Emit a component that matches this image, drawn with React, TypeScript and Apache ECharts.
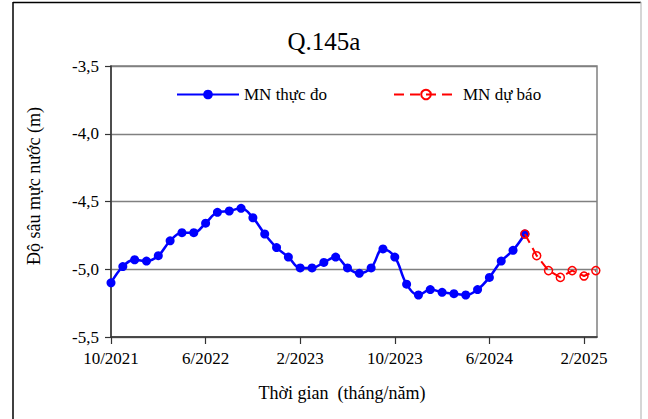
import React, { useEffect, useRef } from "react";
import * as echarts from "echarts";

// Month index 0 = 10/2021
const tickIndex = [0, 8, 16, 24, 32, 40];
const tickLabels = ["10/2021", "6/2022", "2/2023", "10/2023", "6/2024", "2/2025"];

// Observed water depth (MN thực đo), monthly from 10/2021 to 9/2024
const observed = [
  -5.1, -4.98, -4.93, -4.94, -4.9, -4.79, -4.73, -4.73, -4.66, -4.58, -4.57, -4.55,
  -4.62, -4.74, -4.84, -4.91, -4.99, -4.99, -4.95, -4.91, -4.99, -5.03, -4.99, -4.85,
  -4.91, -5.11, -5.19, -5.15, -5.17, -5.18, -5.19, -5.15, -5.06, -4.94, -4.86, -4.74,
];
// Forecast (MN dự báo), monthly from 9/2024 to 3/2025
const forecastStart = 35;
const forecast = [-4.74, -4.9, -5.01, -5.06, -5.01, -5.05, -5.01];

const SERIF = "Liberation Serif";

export default function App() {
  const ref = useRef<HTMLDivElement>(null);
  useEffect(() => {
    if (!ref.current) return;
    const chart = echarts.init(ref.current, null, { renderer: "svg" });
    const obsData = observed.map((v, i) => [i, v]);
    const fcData = forecast.map((v, i) => [forecastStart + i, v]);
    chart.setOption({
      animation: false,
      backgroundColor: "#fff",
      textStyle: { fontFamily: SERIF, color: "#000" },
      title: {
        text: "Q.145a",
        left: "center",
        top: 24,
        textStyle: { fontFamily: SERIF, fontSize: 25, fontWeight: "normal", color: "#000" },
      },
      legend: [
        {
          data: ["MN thực đo"],
          left: 171,
          top: 81,
          itemWidth: 62,
          itemHeight: 12,
          itemGap: 7,
          textStyle: { fontFamily: SERIF, fontSize: 17, color: "#000" },
        },
        {
          data: ["MN dự báo"],
          left: 388,
          top: 81,
          itemWidth: 64,
          itemHeight: 12,
          textStyle: { fontFamily: SERIF, fontSize: 17, color: "#000" },
        },
      ],
      grid: {
        left: 111,
        right: 51,
        top: 66,
        bottom: 82,
        show: true,
        borderColor: "#808080",
        borderWidth: 1.5,
        containLabel: false,
      },
      xAxis: {
        type: "value",
        min: 0,
        max: 41.1,
        splitLine: { show: false },
        axisLine: { show: true, onZero: false, lineStyle: { color: "#333", width: 1.5 } },
        axisTick: {
          show: true,
          length: 7,
          customValues: tickIndex,
          lineStyle: { color: "#333", width: 1.2 },
        },
        axisLabel: {
          customValues: tickIndex,
          margin: 13,
          fontFamily: SERIF,
          fontSize: 17,
          color: "#000",
          formatter: (v: number) => {
            const k = tickIndex.indexOf(Math.round(v));
            return k >= 0 ? tickLabels[k] : "";
          },
        },
      },
      yAxis: {
        type: "value",
        min: -5.5,
        max: -3.5,
        interval: 0.5,
        axisLine: { show: true, lineStyle: { color: "#333", width: 1.5 } },
        axisTick: { show: true, length: 6, lineStyle: { color: "#333", width: 1.2 } },
        splitLine: { show: true, lineStyle: { color: "#808080", width: 1.3 } },
        axisLabel: {
          margin: 12,
          fontFamily: SERIF,
          fontSize: 17,
          color: "#000",
          formatter: (v: number) => v.toFixed(1).replace(".", ","),
        },
      },
      series: [
        {
          name: "MN dự báo",
          type: "line",
          data: fcData,
          smooth: false,
          symbol: "circle",
          symbolSize: 8,
          z: 3,
          lineStyle: { color: "#ff0000", width: 2, type: [10, 6] },
          itemStyle: { color: "rgba(255,255,255,0)", borderColor: "#ff0000", borderWidth: 1.5 },
        },
        {
          name: "MN thực đo",
          type: "line",
          data: obsData,
          smooth: 0.4,
          symbol: "circle",
          symbolSize: 9,
          z: 2,
          lineStyle: { color: "#0000ff", width: 2.5 },
          itemStyle: { color: "#0000ff" },
        },
      ],
      graphic: [
        {
          type: "text",
          x: 342,
          y: 393,
          style: {
            text: "Thời gian  (tháng/năm)",
            fontFamily: SERIF,
            fontSize: 18,
            fill: "#000",
            align: "center",
            verticalAlign: "middle",
          },
        },
        {
          type: "text",
          x: 34,
          y: 186,
          rotation: Math.PI / 2,
          style: {
            text: "Độ sâu mực nước (m)",
            fontFamily: SERIF,
            fontSize: 18,
            fill: "#000",
            align: "center",
            verticalAlign: "middle",
          },
        },
        { type: "line", shape: { x1: 13, y1: 2.5, x2: 641, y2: 2.5 }, style: { stroke: "#000", lineWidth: 1.5 } },
        { type: "line", shape: { x1: 13, y1: 2, x2: 13, y2: 419 }, style: { stroke: "#000", lineWidth: 1.5 } },
        { type: "line", shape: { x1: 641, y1: 2, x2: 641, y2: 419 }, style: { stroke: "#bbb", lineWidth: 1.2 } },
      ],
    });
    return () => chart.dispose();
  }, []);
  return (
    <div
      ref={ref}
      style={{ position: "fixed", left: 0, top: 0, width: 648, height: 419 }}
    />
  );
}
